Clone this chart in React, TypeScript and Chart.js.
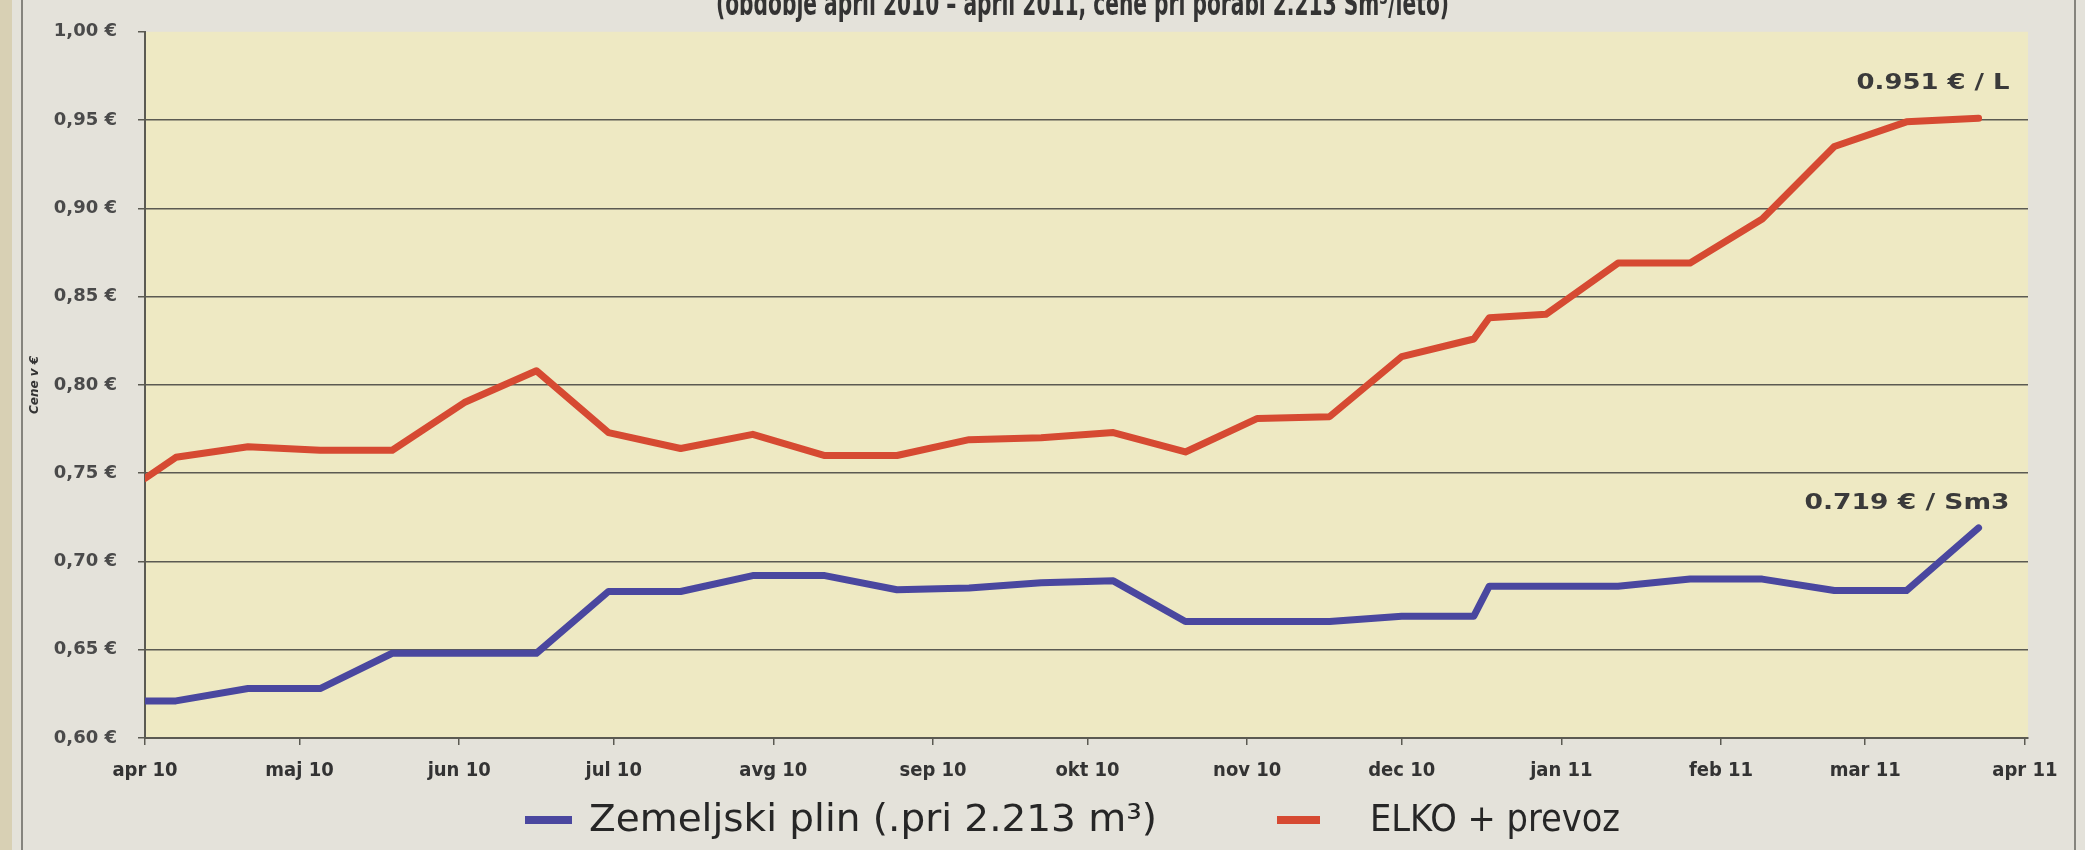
import React, { useEffect, useRef } from 'react';
import { Chart, registerables } from 'chart.js';

Chart.register(...registerables);

// Days counted from 1 Apr 2010
const sampleDays = [0, 6, 20, 34, 48, 62, 76, 90, 104, 118, 132, 146, 160, 174, 188, 202, 216, 230, 244, 258, 261, 272, 286, 300, 314, 328, 342, 356];
const gasPrices = [0.621, 0.621, 0.628, 0.628, 0.648, 0.648, 0.648, 0.683, 0.683, 0.692, 0.692, 0.684, 0.685, 0.688, 0.689, 0.666, 0.666, 0.666, 0.669, 0.669, 0.686, 0.686, 0.686, 0.690, 0.690, 0.6835, 0.6835, 0.719];
const elkoPrices = [0.747, 0.759, 0.765, 0.763, 0.763, 0.790, 0.808, 0.773, 0.764, 0.772, 0.760, 0.760, 0.769, 0.770, 0.773, 0.762, 0.781, 0.782, 0.816, 0.826, 0.838, 0.840, 0.869, 0.869, 0.894, 0.935, 0.949, 0.951];

const monthTickDays = [0, 30, 61, 91, 122, 153, 183, 214, 244, 275, 306, 334, 365];
const monthLabels = ['apr 10', 'maj 10', 'jun 10', 'jul 10', 'avg 10', 'sep 10', 'okt 10', 'nov 10', 'dec 10', 'jan 11', 'feb 11', 'mar 11', 'apr 11'];

const seriesNames = ['Zemeljski plin (.pri 2.213 m³)', 'ELKO + prevoz'];
const endLabels = ['0.719 € / Sm3', '0.951 € / L'];
const titleText = '(obdobje april 2010 – april 2011, cene pri porabi 2.213 Sm³/leto)';
const yAxisTitle = 'Cene v €';

const BLUE = '#4a479f';
const RED = '#d64a32';
const PAGE_BG = '#e4e2da';
const PLOT_BG = '#eee9c3';
const GRID = '#5b5a52';
const TEXT = '#3a3a3a';
const NARROW = '"Liberation Sans Narrow", "DejaVu Sans Condensed", sans-serif';

function fitText(ctx: CanvasRenderingContext2D, text: string, x: number, y: number, width: number) {
  const w = ctx.measureText(text).width;
  ctx.save();
  ctx.translate(x, y);
  ctx.scale(width / w, 1);
  ctx.textAlign = 'left';
  ctx.fillText(text, 0, 0);
  ctx.restore();
}

const decorPlugin = {
  id: 'decor',
  beforeDraw(chart: any) {
    const { ctx, chartArea: a, width, height } = chart;
    ctx.save();
    ctx.fillStyle = PAGE_BG;
    ctx.fillRect(0, 0, width, height);
    ctx.fillStyle = '#d8d0b4';
    ctx.fillRect(0, 0, 12, height);
    ctx.fillStyle = PLOT_BG;
    ctx.fillRect(a.left, a.top, a.right - a.left, a.bottom - a.top);
    ctx.strokeStyle = '#66655f';
    ctx.lineWidth = 1.5;
    ctx.beginPath();
    ctx.moveTo(22, 0); ctx.lineTo(22, height);
    ctx.moveTo(2075, 0); ctx.lineTo(2075, height);
    ctx.stroke();
    ctx.restore();
  },
  afterDatasetsDraw(chart: any) {
    const { ctx } = chart;
    const xs = chart.scales.x;
    const ys = chart.scales.y;
    ctx.save();
    ctx.fillStyle = TEXT;
    ctx.textBaseline = 'alphabetic';
    // end labels
    ctx.font = 'bold 21px "DejaVu Sans"';
    const lastIdx = sampleDays.length - 1;
    const xr = xs.getPixelForValue(sampleDays[lastIdx]) + 31;
    const yGas = ys.getPixelForValue(gasPrices[lastIdx]) - 19;
    const yElko = ys.getPixelForValue(elkoPrices[lastIdx]) - 29;
    fitText(ctx, endLabels[0], xr - 205, yGas, 205);
    fitText(ctx, endLabels[1], xr - 153, yElko, 153);
    // title (cut at the top edge)
    ctx.font = 'bold 34px ' + NARROW;
    ctx.fillStyle = '#333';
    fitText(ctx, titleText, 716, 15, 733);
    // legend
    const ly = 820;
    ctx.fillStyle = BLUE;
    ctx.fillRect(525, ly - 4, 47, 8);
    ctx.fillStyle = RED;
    ctx.fillRect(1277, ly - 4, 43, 8);
    ctx.fillStyle = '#262626';
    ctx.textBaseline = 'middle';
    ctx.font = '37px ' + NARROW;
    fitText(ctx, seriesNames[0], 589, ly + 1, 568);
    fitText(ctx, seriesNames[1], 1370, ly + 1, 250);
    ctx.restore();
  },
};

export default function App() {
  const canvasRef = useRef<HTMLCanvasElement | null>(null);

  useEffect(() => {
    document.body.style.margin = '0';
    document.body.style.background = PAGE_BG;
    const canvas = canvasRef.current;
    if (!canvas) return;
    const chart = new Chart(canvas, {
      type: 'line',
      data: {
        datasets: [
          {
            label: seriesNames[0],
            data: sampleDays.map((d, i) => ({ x: d, y: gasPrices[i] })),
            borderColor: BLUE,
            backgroundColor: BLUE,
            borderWidth: 7,
            pointRadius: 0,
            tension: 0,
            borderJoinStyle: 'round',
            borderCapStyle: 'round',
          },
          {
            label: seriesNames[1],
            data: sampleDays.map((d, i) => ({ x: d, y: elkoPrices[i] })),
            borderColor: RED,
            backgroundColor: RED,
            borderWidth: 7,
            pointRadius: 0,
            tension: 0,
            borderJoinStyle: 'round',
            borderCapStyle: 'round',
          },
        ],
      },
      options: {
        animation: false,
        responsive: false,
        maintainAspectRatio: false,
        layout: { padding: { top: 27, right: 57, left: 0, bottom: 0 } },
        plugins: {
          legend: { display: false },
          tooltip: { enabled: false },
          title: { display: false },
        },
        scales: {
          x: {
            type: 'linear',
            min: 0,
            max: 365.6,
            afterBuildTicks: (scale: any) => {
              scale.ticks = monthTickDays.map((v) => ({ value: v }));
            },
            afterFit: (scale: any) => {
              scale.height = 112;
            },
            ticks: {
              autoSkip: false,
              maxRotation: 0,
              padding: 14,
              color: '#333',
              font: { family: NARROW, size: 20, weight: 'bold' },
              callback: (_v: any, i: number) => monthLabels[i],
            },
            grid: { drawOnChartArea: false, tickLength: 7, color: GRID, lineWidth: 1.5 },
            border: { color: GRID, width: 2 },
          },
          y: {
            min: 0.6,
            max: 1.0,
            afterFit: (scale: any) => {
              scale.width = 145;
            },
            ticks: {
              stepSize: 0.05,
              padding: 21,
              color: '#4a4a4a',
              font: { family: '"DejaVu Sans"', size: 18, weight: 'bold' },
              callback: (v: any) => Number(v).toFixed(2).replace('.', ',') + ' €',
            },
            grid: {
              tickLength: 7,
              lineWidth: 1.5,
              color: (c: any) => (c.tick && Math.abs(c.tick.value - 1.0) < 1e-6 ? 'rgba(0,0,0,0)' : GRID),
              tickColor: GRID,
            },
            border: { color: GRID, width: 2 },
            title: {
              display: true,
              text: yAxisTitle,
              color: '#333',
              font: { family: '"DejaVu Sans"', size: 12, style: 'italic', weight: 'bold' },
              padding: { top: 28, bottom: 0 },
            },
          },
        },
      },
      plugins: [decorPlugin],
    } as any);
    return () => chart.destroy();
  }, []);

  return (
    <div style={{ width: 2085, height: 850 }}>
      <canvas ref={canvasRef} width={2085} height={850} style={{ display: 'block', width: 2085, height: 850 }} />
    </div>
  );
}
